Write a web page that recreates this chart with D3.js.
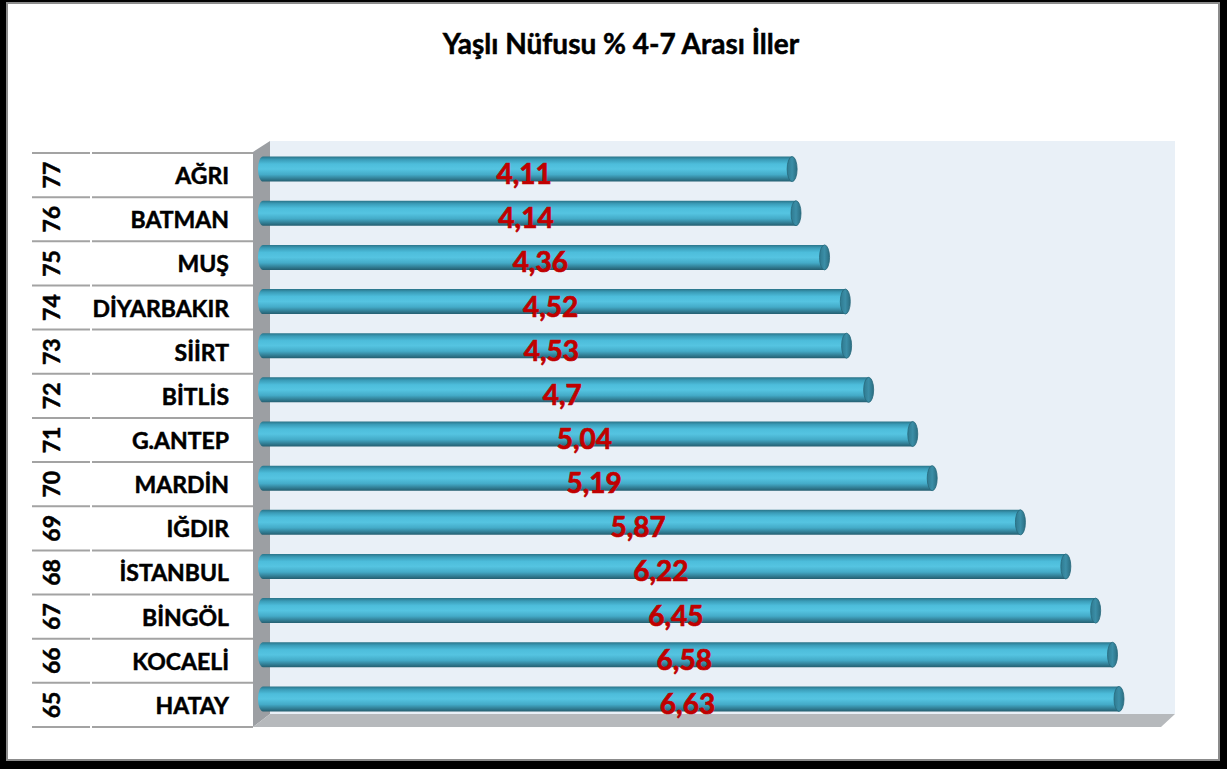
<!DOCTYPE html>
<html>
<head>
<meta charset="utf-8">
<script src="https://cdn.jsdelivr.net/npm/d3@7"></script>
<style>
  html, body { margin: 0; padding: 0; background: #000; }
  svg { display: block; }
</style>
</head>
<body>
<div id="chart"></div>
<script>
const title = 'Yaşlı Nüfusu % 4-7 Arası İller';
const ranks = [77, 76, 75, 74, 73, 72, 71, 70, 69, 68, 67, 66, 65];
const provinces = ['AĞRI', 'BATMAN', 'MUŞ', 'DİYARBAKIR', 'SİİRT', 'BİTLİS', 'G.ANTEP', 'MARDİN', 'IĞDIR', 'İSTANBUL', 'BİNGÖL', 'KOCAELİ', 'HATAY'];
const values = [4.11, 4.14, 4.36, 4.52, 4.53, 4.7, 5.04, 5.19, 5.87, 6.22, 6.45, 6.58, 6.63];

const W = 1227, H = 769;
const font = 'Lato, "Open Sans", sans-serif';

const rows = provinces.map((p, i) => ({ name: p, rank: ranks[i], value: values[i] }));

const svg = d3.select('#chart').append('svg')
  .attr('width', W).attr('height', H);

const defs = svg.append('defs');
const grad = defs.append('linearGradient')
  .attr('id', 'cyl').attr('x1', 0).attr('y1', 0).attr('x2', 0).attr('y2', 1);
[[0, '#2a7489'], [0.12, '#3a9cb8'], [0.3, '#4dbddb'], [0.5, '#55c4e1'], [0.72, '#44abc8'], [0.88, '#327f96'], [1, '#245e70']]
  .forEach(([o, c]) => grad.append('stop').attr('offset', o).attr('stop-color', c));

const capGrad = defs.append('linearGradient')
  .attr('id', 'cap').attr('x1', 0).attr('y1', 0).attr('x2', 1).attr('y2', 0);
[[0, '#2f7a90'], [0.5, '#3b8ea7'], [1, '#2b6e82']]
  .forEach(([o, c]) => capGrad.append('stop').attr('offset', o).attr('stop-color', c));

// frame
svg.append('rect')
  .attr('x', 7).attr('y', 3).attr('width', 1212).attr('height', 757)
  .attr('fill', '#fff').attr('stroke', '#8c8c8c').attr('stroke-width', 2);

svg.append('text')
  .attr('x', 621).attr('y', 54)
  .attr('text-anchor', 'middle')
  .attr('font-family', font).attr('font-weight', 'bold').attr('font-size', 28)
  .attr('fill', '#000').attr('stroke', '#000').attr('stroke-width', 0.5)
  .text(title);

// scales
const x = d3.scaleLinear().domain([0, 7]).range([264, 1172]);
const y = d3.scaleBand().domain(provinces).range([153, 727]).padding(0);

const wallL = 253, wallR = 270, plotTop = 141, floorTop = 714, plotBottom = 727, backR = 1175, depth = 14;

// back wall
svg.append('rect')
  .attr('x', wallR).attr('y', plotTop).attr('width', backR - wallR).attr('height', floorTop - plotTop)
  .attr('fill', '#e9f0f7');

// side wall
svg.append('path')
  .attr('d', `M${wallL},${plotTop + 11}L${wallR},${plotTop}L${wallR},${floorTop}L${wallL},${plotBottom}Z`)
  .attr('fill', '#9c9fa3');

// floor
svg.append('path')
  .attr('d', `M${wallL},${plotBottom}L${wallR},${floorTop}L${backR},${floorTop}L${backR - depth},${plotBottom}Z`)
  .attr('fill', '#b6b9bc');

// table lines
const lineYs = provinces.map(p => y(p)).concat([y.range()[1]]);
const tbl = svg.append('g');
lineYs.forEach(ly => {
  tbl.append('line').attr('x1', 32).attr('x2', 90).attr('y1', ly).attr('y2', ly)
    .attr('stroke', '#a3a3a3').attr('stroke-width', 2);
  tbl.append('line').attr('x1', 92).attr('x2', wallL).attr('y1', ly).attr('y2', ly)
    .attr('stroke', '#a3a3a3').attr('stroke-width', 2);
});

// row labels
const rowG = svg.append('g').selectAll('g').data(rows).join('g')
  .attr('transform', d => `translate(0,${y(d.name) + y.bandwidth() / 2})`);

rowG.append('text')
  .attr('transform', 'translate(60,0) rotate(-90)')
  .attr('text-anchor', 'middle')
  .attr('font-family', font).attr('font-weight', 'bold').attr('font-size', 23)
  .attr('fill', '#000').attr('stroke', '#000').attr('stroke-width', 0.5)
  .text(d => d.rank);

rowG.append('text')
  .attr('x', 229).attr('y', 9)
  .attr('text-anchor', 'end')
  .attr('font-family', font).attr('font-weight', 'bold').attr('font-size', 23)
  .attr('fill', '#000').attr('stroke', '#000').attr('stroke-width', 0.5)
  .text(d => d.name);

// bars (cylinders)
const barH = 25, rx = 5, x0 = 258;
const bars = svg.append('g').selectAll('g').data(rows).join('g')
  .attr('transform', d => `translate(0,${y(d.name) + y.bandwidth() / 2 - 6})`);

bars.append('path')
  .attr('d', d => {
    const xe = x(d.value) - rx;
    return `M${x0 + rx},${-barH / 2}L${xe},${-barH / 2}L${xe},${barH / 2}L${x0 + rx},${barH / 2}` +
      `A${rx},${barH / 2} 0 0 1 ${x0 + rx},${-barH / 2}Z`;
  })
  .attr('fill', 'url(#cyl)');

bars.append('ellipse')
  .attr('cx', d => x(d.value) - rx).attr('cy', 0)
  .attr('rx', rx).attr('ry', barH / 2)
  .attr('fill', 'url(#cap)')
  .attr('stroke', '#27687b').attr('stroke-width', 0.8);

// value labels
bars.append('text')
  .attr('x', d => (x0 + x(d.value)) / 2 - 3.5)
  .attr('y', 15)
  .attr('text-anchor', 'middle')
  .attr('font-family', font).attr('font-weight', 'bold').attr('font-size', 28)
  .attr('fill', '#c00000').attr('stroke', '#c00000').attr('stroke-width', 0.7)
  .text(d => String(d.value).replace('.', ','));
</script>
</body>
</html>
